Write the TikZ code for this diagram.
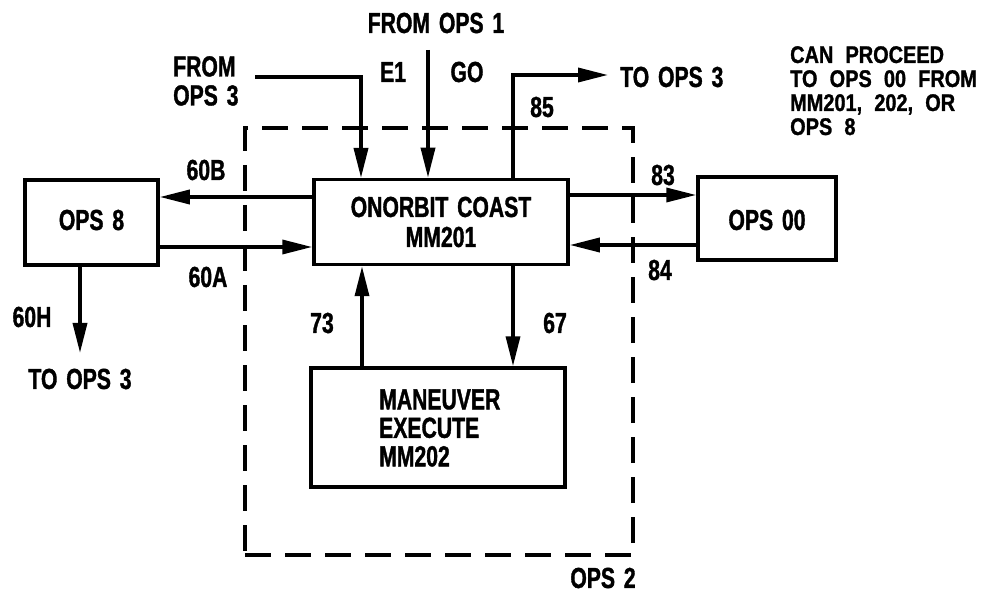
\documentclass[tikz,border=0pt]{standalone}
\usepackage{fontspec}
\setmainfont{Liberation Sans}[FakeStretch=0.73, WordSpace=1.5, BoldFeatures={FakeBold=1.2}]
\newfontfamily\notefont{Liberation Sans}[FakeStretch=0.83, WordSpace=2.2, BoldFeatures={FakeBold=1.2}]
\usetikzlibrary{arrows.meta}
\begin{document}
\begin{tikzpicture}[x=1pt,y=-1pt,
  every node/.style={font=\bfseries\fontsize{29}{29}\selectfont, inner sep=0pt},
  blk/.style={draw, line width=3.5pt, inner sep=0pt},
  arr/.style={line width=3.5pt, -{Triangle[length=30pt,width=14pt]}},
  grp/.style={draw, line width=3.5pt, dash pattern=on 26pt off 14pt},
  note/.style={font=\notefont\bfseries\fontsize{24}{24}\selectfont, align=left}]
\useasboundingbox (0,0) rectangle (994,596);
% group box
\node[grp, minimum width=388pt, minimum height=427pt] (ops2) at (439,341.5) {};
% blocks
\node[blk, minimum width=254pt, minimum height=85pt, align=center, font=\bfseries\fontsize{29}{30}\selectfont] (coast) at (441,222) {ONORBIT COAST\\MM201};
\node[blk, minimum width=133pt, minimum height=85pt] (ops8) at (91.5,222.5) {};
\node (ops8t) at (91.5,220) {OPS 8};
\node[blk, minimum width=138pt, minimum height=83pt] (ops00) at (767,218.5) {};
\node (ops00t) at (767,220) {OPS 00};
\node[blk, minimum width=254pt, minimum height=119pt] (man) at (438,427.5) {};
\node[align=left, anchor=west, font=\bfseries\fontsize{29}{28.5}\selectfont] (mantext) at (379,428) {MANEUVER\\EXECUTE\\MM202};
% free ends
\coordinate (f3) at (255,77);
\coordinate (f1) at (428,50);
\coordinate (t3) at (608,75);
\coordinate (h) at (80,353);
% connectors
\draw[arr] (f3) -| (361,178);
\draw[arr] (f1) -- (coast.north -| f1);
\draw[arr] (513,180) |- (t3);
\draw[arr] (coast.west |- 0,197) -- (ops8.east |- 0,197);
\draw[arr] (ops8.east |- 0,247) -- (coast.west |- 0,247);
\draw[arr] (coast.east |- 0,195) -- (ops00.west |- 0,195);
\draw[arr] (ops00.west |- 0,245) -- (coast.east |- 0,245);
\draw[arr] (ops8.south -| h) -- (h);
\draw[arr] (man.north -| 362,0) -- (coast.south -| 362,0);
\draw[arr] (coast.south -| 513,0) -- (man.north -| 513,0);
% labels
\node (l1) at (436,23) {FROM OPS 1};
\node (lE) at (393,72) {E1};
\node (lG) at (467,72) {GO};
\node (l85) at (542,107) {85};
\node[anchor=west] (lt3) at (620,77) {TO OPS 3};
\node[align=left, anchor=north west, font=\bfseries\fontsize{29}{29}\selectfont] (lf3) at (173,56) {FROM\\OPS 3};
\node (l60b) at (206,170) {60B};
\node (l60a) at (208,277) {60A};
\node (l83) at (663,175) {83};
\node (l84) at (660,270) {84};
\node (l60h) at (32,317) {60H};
\node (lt3b) at (80,379) {TO OPS 3};
\node (l73) at (322,323) {73};
\node (l67) at (555,323) {67};
\node (lops2) at (603,578) {OPS 2};
\node[note, anchor=north west] (lnote) at (790,46) {CAN PROCEED\\TO OPS 00 FROM\\MM201, 202, OR\\OPS 8};
\end{tikzpicture}
\end{document}
